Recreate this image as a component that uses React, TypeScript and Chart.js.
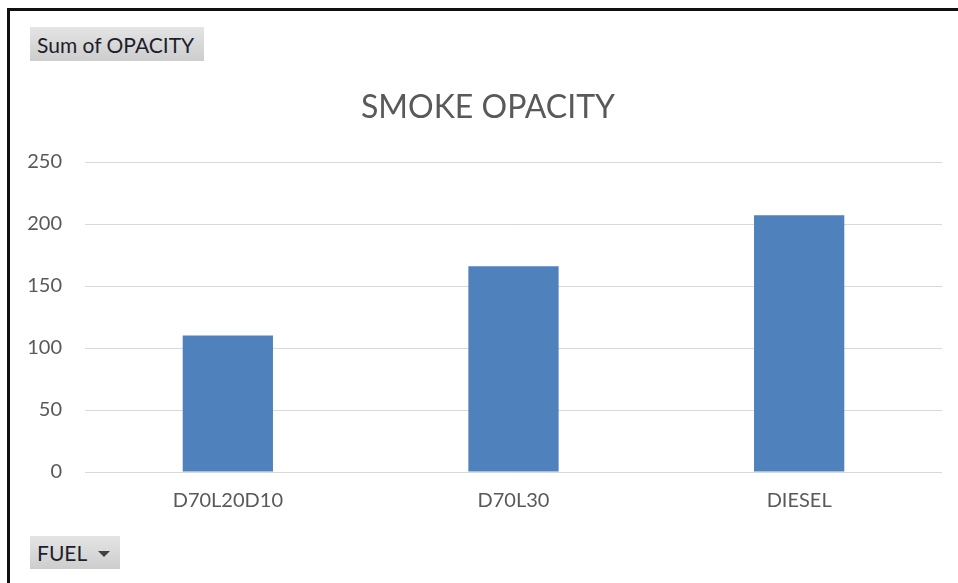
import React, { useEffect, useRef } from "react";
import { Chart, registerables } from "chart.js";

Chart.register(...registerables);

const categories = ["D70L20D10", "D70L30", "DIESEL"];
const opacityValues = [110, 166, 207];
const yTicks = [0, 50, 100, 150, 200, 250];
const chartTitle = "SMOKE OPACITY";
const valueButtonLabel = "Sum of OPACITY";
const axisButtonLabel = "FUEL";

const FONT = "Lato, 'Noto Sans', sans-serif";

const titlePlugin = {
  id: "excelTitle",
  afterDraw(chart: any) {
    const ctx = chart.ctx;
    ctx.save();
    ctx.font = `normal 32px ${FONT}`;
    ctx.fillStyle = "#595959";
    ctx.textAlign = "center";
    ctx.textBaseline = "middle";
    ctx.fillText(chartTitle, 488, 108);
    ctx.restore();
  },
};

export default function App() {
  const canvasRef = useRef<HTMLCanvasElement | null>(null);

  useEffect(() => {
    if (!canvasRef.current) return;
    const chart = new Chart(canvasRef.current, {
      type: "bar",
      data: {
        labels: categories,
        datasets: [
          {
            label: valueButtonLabel,
            data: opacityValues,
            backgroundColor: "#4F81BD",
            borderWidth: 0,
            barPercentage: 0.316,
            categoryPercentage: 1,
          },
        ],
      },
      plugins: [titlePlugin],
      options: {
        responsive: false,
        animation: false,
        devicePixelRatio: 1,
        layout: { padding: { left: 0, right: 16, top: 162, bottom: 53 } },
        plugins: {
          legend: { display: false },
          tooltip: { enabled: false },
          title: { display: false },
        },
        scales: {
          x: {
            grid: { display: false, drawTicks: false },
            border: { display: false },
            ticks: {
              color: "#595959",
              font: { family: FONT, size: 20 },
              padding: 17,
              maxRotation: 0,
            },
          },
          y: {
            min: 0,
            max: 250,
            afterFit: (scale: any) => {
              scale.width = 85;
            },
            afterBuildTicks: (scale: any) => {
              scale.ticks = yTicks.map((v) => ({ value: v }));
            },
            grid: { color: "#d9d9d9", lineWidth: 1, drawTicks: false },
            border: { display: false },
            ticks: {
              color: "#595959",
              font: { family: FONT, size: 20 },
              padding: 23,
            },
          },
        },
      },
    });
    return () => chart.destroy();
  }, []);

  const btn: React.CSSProperties = {
    position: "absolute",
    background: "linear-gradient(#e4e4e4, #cdcdcd)",
    fontFamily: FONT,
    fontSize: 21,
    color: "#1e1e2e",
    boxSizing: "border-box",
    display: "flex",
    alignItems: "center",
    paddingLeft: 7,
    whiteSpace: "nowrap",
  };

  return (
    <div style={{ position: "absolute", left: 0, top: 0, width: 958, height: 583, background: "#fff", overflow: "hidden" }}>
      <canvas ref={canvasRef} width={958} height={583} style={{ position: "absolute", left: 0, top: 0, display: "block" }} />
      <div
        style={{
          position: "absolute",
          left: 7,
          top: 8,
          width: 960,
          height: 600,
          borderTop: "3px solid #111",
          borderLeft: "3px solid #111",
          boxSizing: "border-box",
          pointerEvents: "none",
        }}
      />
      <div style={{ ...btn, left: 30, top: 27, width: 174, height: 34 }}>{valueButtonLabel}</div>
      <div style={{ ...btn, left: 30, top: 536, width: 90, height: 33 }}>
        {axisButtonLabel}
        <span
          style={{
            display: "inline-block",
            marginLeft: 11,
            marginTop: 3,
            width: 0,
            height: 0,
            borderLeft: "6px solid transparent",
            borderRight: "6px solid transparent",
            borderTop: "6px solid #404040",
          }}
        />
      </div>
    </div>
  );
}
